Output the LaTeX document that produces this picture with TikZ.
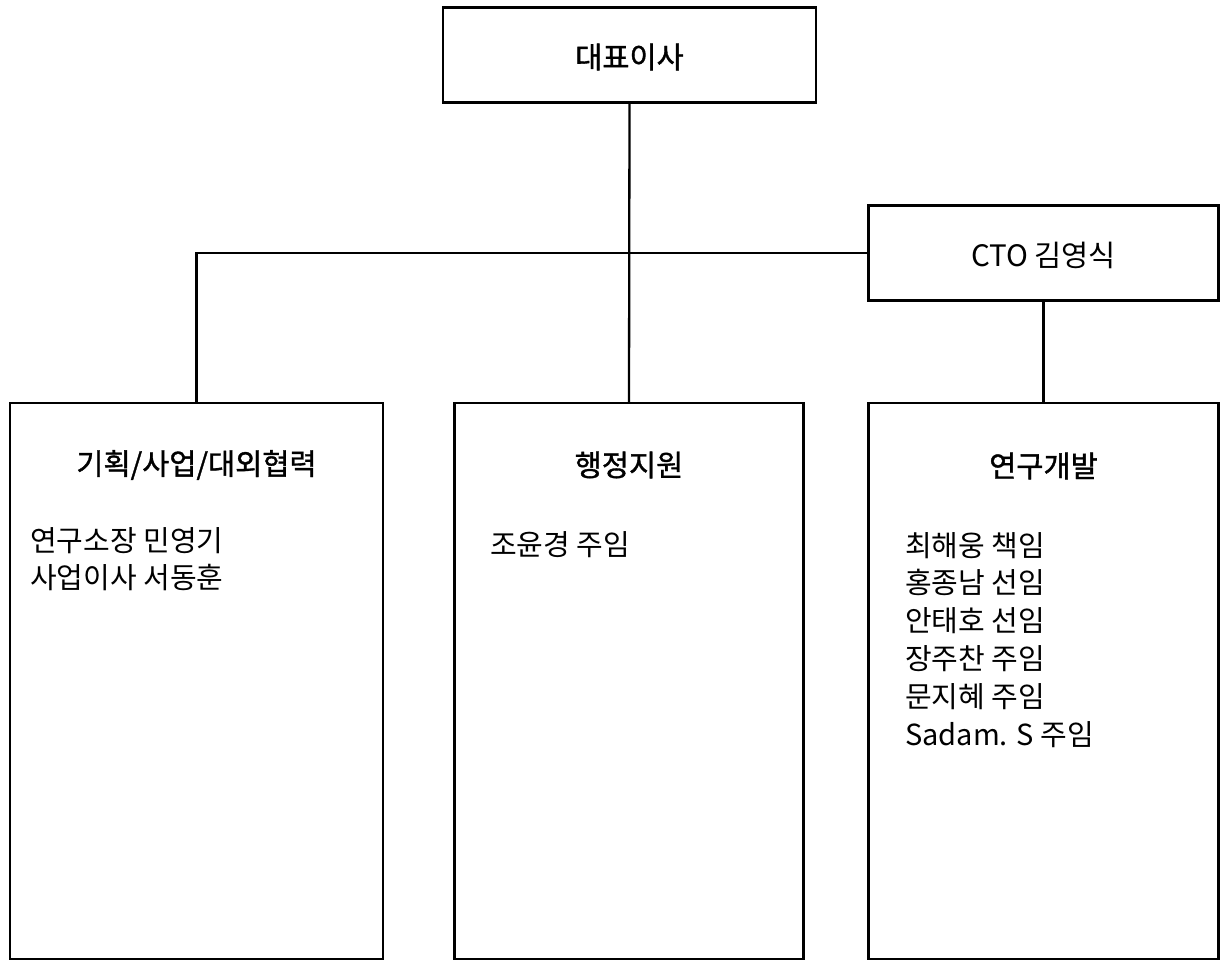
\documentclass[tikz,border=0pt]{standalone}
\usepackage{fontspec}
\setmainfont{Noto Sans CJK KR}
\newfontfamily\headfont[FakeBold=1.2]{Noto Sans CJK KR}
\usepackage{tikz}
\usetikzlibrary{positioning}

\tikzset{
	orgbox/.style={draw,line width=2.3pt,inner sep=0pt},
	link/.style={line width=2.3pt},
	headtext/.style={font=\fontsize{29.5}{32}\headfont},
	bodytext/.style={font=\fontsize{29}{37.8}\selectfont,align=left,anchor=north west,inner sep=0pt}
}

\begin{document}
\begin{tikzpicture}[x=1pt,y=-1pt]
	\useasboundingbox (0,0) rectangle (1220,961);
	\node[orgbox,minimum width=373pt,minimum height=95pt] (ceo) at (629.5,55) {};
	\node[headtext] (ceotext) at (629.5,57) {대표이사};
	\node[orgbox,minimum width=350pt,minimum height=95pt] (cto) at (1043.5,253) {};
	\node[font=\fontsize{29.5}{32}\selectfont] (ctotext) at (1043.5,255) {CTO 김영식};
	\node[orgbox,minimum width=373pt,minimum height=556pt] (plan) at (196.5,681) {};
	\node[orgbox,minimum width=349pt,minimum height=556pt] (admin) at (629,681) {};
	\node[orgbox,minimum width=350pt,minimum height=556pt] (rnd) at (1043.5,681) {};
	\draw[link] (ceo.south) -- (admin.north);
	\draw[link] (cto.west) -| (plan.north);
	\draw[link] (cto.south) -- (rnd.north);
	\node[headtext] (plantitle) at (196.5,465) {기획/사업/대외협력};
	\node[headtext] (admintitle) at (629,465) {행정지원};
	\node[headtext] (rndtitle) at (1043.5,466) {연구개발};
	\node[bodytext] (planlist) at (30,527) {연구소장 민영기\\사업이사 서동훈};
	\node[bodytext] (adminlist) at (490,531) {조윤경 주임};
	\node[bodytext] (rndlist) at (905,532) {최해웅 책임\\홍종남 선임\\안태호 선임\\장주찬 주임\\문지혜 주임\\Sadam. S 주임};
\end{tikzpicture}
\end{document}
